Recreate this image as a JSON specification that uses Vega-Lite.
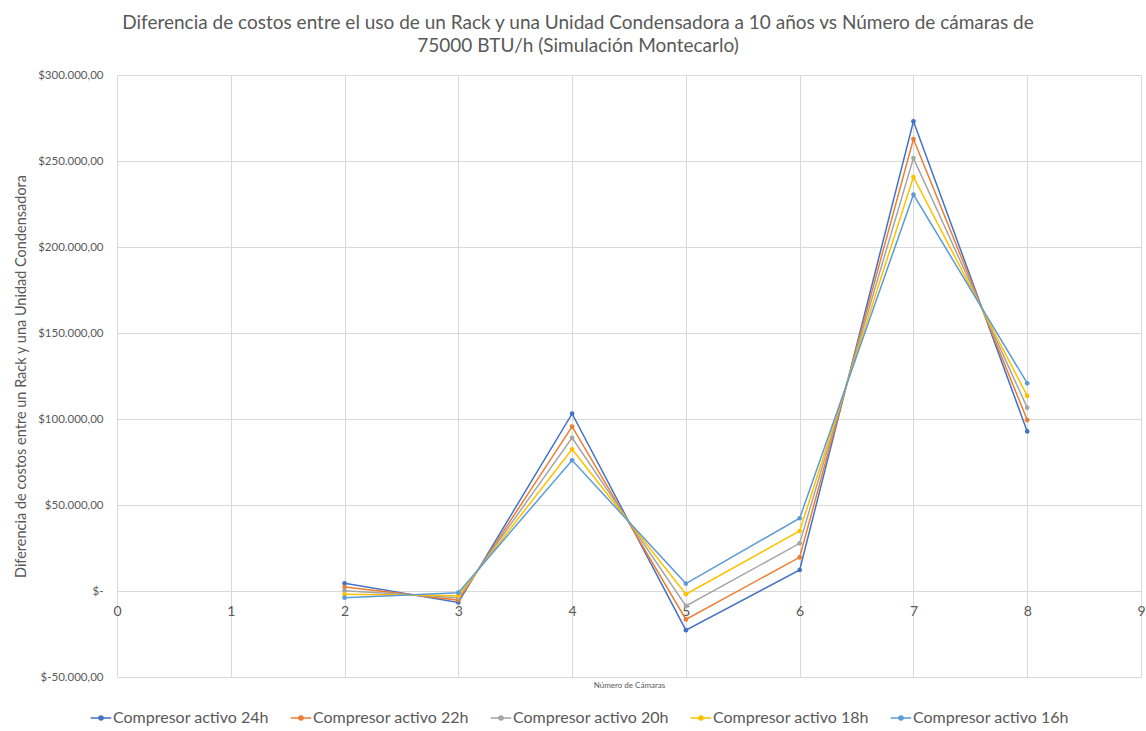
{
  "$schema": "https://vega.github.io/schema/vega-lite/v6.json",
  "width": 1024,
  "height": 602,
  "autosize": {"type": "none"},
  "padding": {"left": 117, "top": 75, "right": 5, "bottom": 54},
  "background": "white",
  "title": {
    "text": ["Diferencia de costos entre el uso de un Rack y una Unidad Condensadora a 10 años vs Número de cámaras de", "75000 BTU/h (Simulación Montecarlo)"],
    "font": "Lato",
    "fontSize": 19,
    "fontWeight": "normal",
    "color": "#595959",
    "anchor": "middle",
    "dx": -51,
    "offset": 13,
    "lineHeight": 23
  },
  "data": {
    "values": [
      {"camaras": 2, "serie": "Compresor activo 24h", "valor": 4500},
      {"camaras": 3, "serie": "Compresor activo 24h", "valor": -6700},
      {"camaras": 4, "serie": "Compresor activo 24h", "valor": 103100},
      {"camaras": 5, "serie": "Compresor activo 24h", "valor": -22800},
      {"camaras": 6, "serie": "Compresor activo 24h", "valor": 12200},
      {"camaras": 7, "serie": "Compresor activo 24h", "valor": 273100},
      {"camaras": 8, "serie": "Compresor activo 24h", "valor": 92800},
      {"camaras": 2, "serie": "Compresor activo 22h", "valor": 2300},
      {"camaras": 3, "serie": "Compresor activo 22h", "valor": -5300},
      {"camaras": 4, "serie": "Compresor activo 22h", "valor": 95600},
      {"camaras": 5, "serie": "Compresor activo 22h", "valor": -16500},
      {"camaras": 6, "serie": "Compresor activo 22h", "valor": 19600},
      {"camaras": 7, "serie": "Compresor activo 22h", "valor": 262800},
      {"camaras": 8, "serie": "Compresor activo 22h", "valor": 99400},
      {"camaras": 2, "serie": "Compresor activo 20h", "valor": 200},
      {"camaras": 3, "serie": "Compresor activo 20h", "valor": -3900},
      {"camaras": 4, "serie": "Compresor activo 20h", "valor": 89000},
      {"camaras": 5, "serie": "Compresor activo 20h", "valor": -8700},
      {"camaras": 6, "serie": "Compresor activo 20h", "valor": 27700},
      {"camaras": 7, "serie": "Compresor activo 20h", "valor": 251700},
      {"camaras": 8, "serie": "Compresor activo 20h", "valor": 106600},
      {"camaras": 2, "serie": "Compresor activo 18h", "valor": -1900},
      {"camaras": 3, "serie": "Compresor activo 18h", "valor": -2700},
      {"camaras": 4, "serie": "Compresor activo 18h", "valor": 82400},
      {"camaras": 5, "serie": "Compresor activo 18h", "valor": -1900},
      {"camaras": 6, "serie": "Compresor activo 18h", "valor": 34900},
      {"camaras": 7, "serie": "Compresor activo 18h", "valor": 240700},
      {"camaras": 8, "serie": "Compresor activo 18h", "valor": 113400},
      {"camaras": 2, "serie": "Compresor activo 16h", "valor": -3900},
      {"camaras": 3, "serie": "Compresor activo 16h", "valor": -1000},
      {"camaras": 4, "serie": "Compresor activo 16h", "valor": 76000},
      {"camaras": 5, "serie": "Compresor activo 16h", "valor": 4300},
      {"camaras": 6, "serie": "Compresor activo 16h", "valor": 42300},
      {"camaras": 7, "serie": "Compresor activo 16h", "valor": 230500},
      {"camaras": 8, "serie": "Compresor activo 16h", "valor": 120800}
    ]
  },
  "mark": {"type": "line", "strokeWidth": 1.5, "point": {"filled": true, "size": 22}},
  "encoding": {
    "x": {
      "field": "camaras",
      "type": "quantitative",
      "scale": {"domain": [0, 9], "nice": false},
      "axis": {
        "values": [0, 1, 2, 3, 4, 5, 6, 7, 8, 9],
        "title": "Número de Cámaras",
        "titleFontSize": 8,
        "titleFont": "Lato",
        "titleFontWeight": "normal",
        "titleColor": "#595959",
        "titlePadding": 4,
        "labelFont": "Lato",
        "labelFontSize": 14,
        "labelColor": "#595959",
        "labelPadding": -73,
        "labelFlush": false,
        "ticks": false,
        "tickSize": 0,
        "domain": false,
        "grid": true,
        "gridColor": "#D9D9D9"
      }
    },
    "y": {
      "field": "valor",
      "type": "quantitative",
      "scale": {"domain": [-50000, 300000], "nice": false},
      "axis": {
        "values": [-50000, 0, 50000, 100000, 150000, 200000, 250000, 300000],
        "labelExpr": "datum.value == 0 ? '$-' : '$' + replace(replace(replace(replace(format(datum.value, ',.2f'), ',', '_'), '.', ','), '_', '.'), '−', '-')",
        "title": "Diferencia de costos entre un Rack y una Unidad Condensadora",
        "titleFont": "Lato",
        "titleFontSize": 14.5,
        "titleFontWeight": "normal",
        "titleColor": "#595959",
        "titlePadding": 9,
        "labelFont": "Lato",
        "labelFontSize": 11.5,
        "labelColor": "#595959",
        "labelPadding": 14,
        "ticks": false,
        "domain": false,
        "grid": true,
        "gridColor": "#D9D9D9"
      }
    },
    "color": {
      "field": "serie",
      "type": "nominal",
      "sort": ["Compresor activo 24h", "Compresor activo 22h", "Compresor activo 20h", "Compresor activo 18h", "Compresor activo 16h"],
      "scale": {
        "domain": ["Compresor activo 24h", "Compresor activo 22h", "Compresor activo 20h", "Compresor activo 18h", "Compresor activo 16h"],
        "range": ["#4472C4", "#ED7D31", "#A5A5A5", "#FFC000", "#5B9BD5"]
      },
      "legend": {
        "title": null,
        "orient": "none",
        "direction": "horizontal",
        "legendX": -27,
        "legendY": 632,
        "labelFont": "Lato",
        "labelFontSize": 16,
        "labelColor": "#595959",
        "labelOffset": 1,
        "columnPadding": 18,
        "symbolType": "M-1,0L1,0M-0.2,0A0.2,0.2 0 1,0 0.2,0A0.2,0.2 0 1,0 -0.2,0",
        "symbolSize": 420,
        "symbolStrokeWidth": 1.5
      }
    }
  },
  "config": {
    "view": {"stroke": null}
  }
}
